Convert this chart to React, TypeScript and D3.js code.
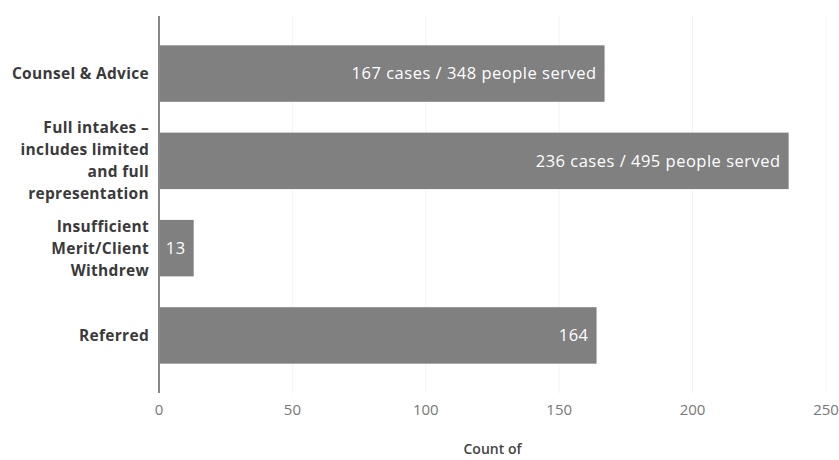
import React from "react";
import * as d3 from "d3";

const categories: string[][] = [
  ["Counsel & Advice"],
  ["Full intakes –", "includes limited", "and full", "representation"],
  ["Insufficient", "Merit/Client", "Withdrew"],
  ["Referred"],
];
const categoryKeys = ["counsel", "full", "insufficient", "referred"];
const values = [167, 236, 13, 164];
const barLabels = ["167 cases / 348 people served", "236 cases / 495 people served", "13", "164"];
const xTicks = [0, 50, 100, 150, 200, 250];
const axisTitle = "Count of";

const W = 839;
const H = 460;
const FONT = "'Open Sans', 'DejaVu Sans', sans-serif";

export default function App() {
  const x = d3.scaleLinear().domain([0, 250]).range([159, 826]);
  const y = d3
    .scaleBand<string>()
    .domain(categoryKeys)
    .range([16, 393])
    .paddingInner(0.353)
    .paddingOuter(0.336);
  const bw = y.bandwidth();
  const lineH = 22;

  return (
    <svg
      width={W}
      height={H}
      style={{ position: "absolute", left: 0, top: 0, display: "block", background: "#fff" }}
      fontFamily={FONT}
    >
      {/* gridlines */}
      {xTicks.slice(1).map((t) => (
        <line key={"g" + t} x1={x(t)} x2={x(t)} y1={16} y2={393} stroke="#f3f3f3" strokeWidth={1} />
      ))}
      {/* bars */}
      {categoryKeys.map((k, i) => {
        const y0 = y(k)!;
        return (
          <g key={k}>
            <rect x={x(0)} y={y0} width={x(values[i]) - x(0)} height={bw} fill="#808080" />
            <text
              x={x(values[i]) - 8}
              y={y0 + bw / 2}
              dy="0.35em"
              textAnchor="end"
              fill="#ffffff"
              fontSize={16.5}
              letterSpacing={0.5}
            >
              {barLabels[i]}
            </text>
          </g>
        );
      })}
      {/* y axis line */}
      <line x1={x(0)} x2={x(0)} y1={16} y2={393} stroke="#888" strokeWidth={2} />
      {/* category labels */}
      {categoryKeys.map((k, i) => {
        const lines = categories[i];
        const cy = y(k)! + bw / 2;
        const start = cy - ((lines.length - 1) * lineH) / 2;
        return (
          <text
            key={"c" + k}
            textAnchor="end"
            fill="#3a3a3a"
            fontWeight="bold"
            fontSize={15.5}
            letterSpacing={0.3}
          >
            {lines.map((ln, j) => (
              <tspan key={j} x={149} y={start + j * lineH} dy="0.35em">
                {ln}
              </tspan>
            ))}
          </text>
        );
      })}
      {/* x tick labels */}
      {xTicks.map((t) => (
        <text key={"t" + t} x={x(t)} y={410} dy="0.35em" textAnchor="middle" fill="#777" fontSize={15}>
          {t}
        </text>
      ))}
      {/* axis title */}
      <text x={(x(0) + x(250)) / 2} y={449} dy="0.35em" textAnchor="middle" fill="#444" fontWeight={600} fontSize={14}>
        {axisTitle}
      </text>
    </svg>
  );
}
